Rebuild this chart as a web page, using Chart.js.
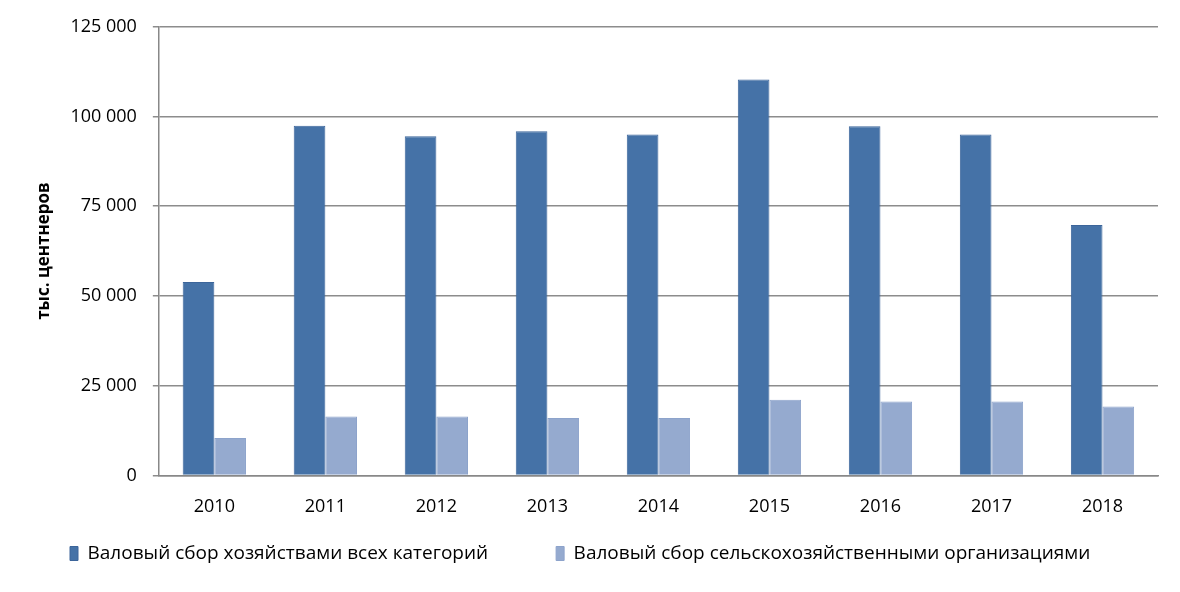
<!DOCTYPE html>
<html>
<head>
<meta charset="utf-8">
<script src="https://cdn.jsdelivr.net/npm/chart.js@4"></script>
<style>
  html, body { margin: 0; padding: 0; background: #fff; }
  #wrap { width: 1180px; height: 592px; }
</style>
</head>
<body>
<div id="wrap"><canvas id="chart"></canvas></div>
<script>
const years = ['2010', '2011', '2012', '2013', '2014', '2015', '2016', '2017', '2018'];
const vseKategorii = [53900, 97400, 94500, 95900, 95000, 110300, 97300, 95000, 69800];
const selkhozOrg = [10400, 16400, 16400, 16000, 16000, 21100, 20600, 20600, 19200];
const yTicks = [0, 25000, 50000, 75000, 100000, 125000];

Chart.defaults.font.family = '"Open Sans", sans-serif';
Chart.defaults.font.size = 18;
Chart.defaults.color = '#000';

const fmt = v => String(v).replace(/\B(?=(\d{3})+(?!\d))/g, ' ');

// легенда в одну строку, с большим промежутком между элементами
const LEGEND_H = 42;
const LEGEND_X = 70;       // левый край первого маркера
const LEGEND_SHIFT_Y = 55;
const legendTweak = {
    id: 'legendTweak',
    afterInit(chart) {
        const lg = chart.legend;
        const origFit = lg.fit.bind(lg);
        lg.fit = function () { origFit(); this.height = LEGEND_H; };
        const origDraw = lg._draw.bind(lg);
        lg._draw = function () {
            const pad = this.options.labels.padding;
            const saved = { left: this.left, right: this.right, lineWidths: this.lineWidths };
            const total = this.lineWidths.reduce((a, b) => a + b, 0);
            this.lineWidths = [total];
            this.right = 5000;
            this.left = 2 * LEGEND_X - pad + total - this.right;
            const c = chart.ctx;
            c.save();
            c.translate(0, -LEGEND_SHIFT_Y);
            origDraw();
            c.restore();
            Object.assign(this, saved);
        };
    }
};

const ctx = document.getElementById('chart').getContext('2d');
new Chart(ctx, {
    type: 'bar',
    data: {
        labels: years,
        datasets: [
            {
                label: 'Валовый сбор хозяйствами всех категорий',
                data: vseKategorii,
                backgroundColor: '#4572A7',
                borderColor: '#3C659A',
                borderWidth: 1
            },
            {
                label: 'Валовый сбор сельскохозяйственными организациями',
                data: selkhozOrg,
                backgroundColor: '#95AACF',
                borderColor: '#8DA3CB',
                borderWidth: 1
            }
        ]
    },
    options: {
        responsive: true,
        maintainAspectRatio: false,
        animation: false,
        categoryPercentage: 0.57,
        barPercentage: 1.0,
        layout: { padding: { left: 34, right: 22, top: 22, bottom: 19 } },
        scales: {
            x: {
                grid: { display: false },
                border: { color: '#888', width: 1.5 },
                ticks: { padding: 13, font: { size: 18 } }
            },
            y: {
                min: 0,
                max: 125000,
                afterBuildTicks: axis => { axis.ticks = yTicks.map(v => ({ value: v })); },
                grid: { color: '#8c8c8c', lineWidth: 1.5, tickLength: 6 },
                border: { color: '#888', width: 1.5 },
                ticks: {
                    padding: 16,
                    font: { size: 18 },
                    callback: v => fmt(v)
                },
                title: {
                    display: true,
                    text: 'тыс. центнеров',
                    font: { size: 17, weight: 'bold' },
                    padding: { top: 0, bottom: 0 }
                }
            }
        },
        plugins: {
            legend: {
                position: 'bottom',
                labels: {
                    boxWidth: 8,
                    boxHeight: 14,
                    padding: 68,
                    font: { size: 19 }
                }
            },
            tooltip: { enabled: false }
        }
    },
    plugins: [legendTweak]
});
</script>
</body>
</html>
